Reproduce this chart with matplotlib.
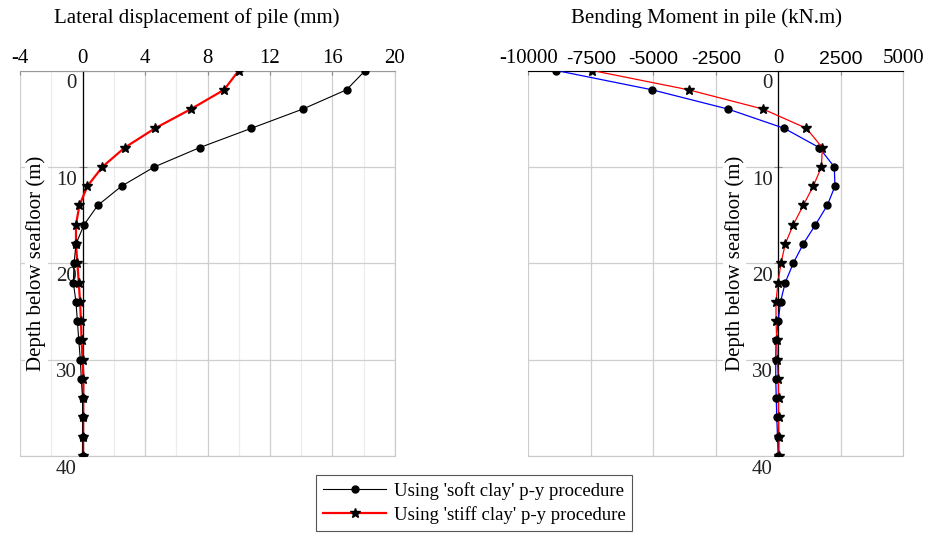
import matplotlib.pyplot as plt
from matplotlib.ticker import MultipleLocator

plt.rcParams['font.family'] = ['Liberation Serif', 'DejaVu Serif']
plt.rcParams['axes.unicode_minus'] = False

# depth below seafloor (m), one value every 2 m
depth = [0, 2, 4, 6, 8, 10, 12, 14, 16, 18, 20, 22, 24, 26, 28, 30, 32, 34, 36, 38, 40]

# lateral displacement (mm)
disp_soft = [18.1, 16.9, 14.1, 10.8, 7.5, 4.6, 2.5, 0.97, 0.1, -0.42, -0.54, -0.59, -0.42,
             -0.33, -0.24, -0.14, -0.08, 0.0, 0.01, 0.02, 0.02]
disp_stiff = [10.0, 9.06, 6.94, 4.64, 2.7, 1.27, 0.31, -0.2, -0.42, -0.42, -0.33, -0.24, -0.16,
              -0.1, -0.06, 0.0, 0.06, 0.04, 0.04, 0.03, 0.03]

# bending moment (kN.m)
mom_soft = [-8880, -5050, -2010, 240, 1640, 2240, 2270, 1960, 1490, 1000, 600, 280, 90,
            0, -90, -100, -100, -80, -60, -30, 0]
mom_stiff = [-7440, -3590, -610, 1130, 1760, 1730, 1400, 1000, 600, 280, 110, -10, -90,
             -90, -60, -40, 0, 10, 10, 30, 30]

depth_ticks = [0, 10, 20, 30, 40]
disp_ticks = [-4, 0, 4, 8, 12, 16, 20]
mom_ticks = [-10000, -7500, -5000, -2500, 0, 2500, 5000]

FS = 15

fig = plt.figure(figsize=(9.28, 5.33), dpi=100)
ax1 = fig.add_axes([0.0216, 0.1445, 0.404, 0.7232])
ax2 = fig.add_axes([0.5693, 0.1445, 0.404, 0.7232])


def style(ax, xticks, top_color):
    ax.set_ylim(40, 0)
    ax.set_xlim(xticks[0], xticks[-1])
    ax.xaxis.tick_top()
    ax.set_xticks(xticks)
    ax.set_yticks(depth_ticks)
    ax.set_yticklabels([])
    ax.spines['left'].set_position(('data', 0))
    ax.spines['left'].set_color('black')
    ax.spines['left'].set_linewidth(0.9)
    for s in ['right', 'bottom']:
        ax.spines[s].set_color('#c8c8c8')
    ax.spines['top'].set_color(top_color)
    ax.tick_params(axis='x', length=3, color='#888888', labelsize=FS, pad=2, direction='in')
    ax.tick_params(axis='y', length=6, color='#888888', direction='inout', pad=0)
    ax.grid(True, which='major', color='#cfcfcf', linewidth=0.9)
    ax.set_axisbelow(True)
    for d in depth_ticks:
        ax.annotate(str(d), xy=(0, d), xytext=(-4, -9.5), textcoords='offset points',
                    ha='right', va='center', fontsize=FS, color='#222222')


style(ax1, disp_ticks, '#999999')
ax1.xaxis.set_minor_locator(MultipleLocator(2))
ax1.tick_params(axis='x', which='minor', length=0)
ax1.grid(True, which='minor', axis='x', color='#ececec', linewidth=0.9)

l_stiff, = ax1.plot(disp_stiff, depth, color='red', lw=1.6, marker='*', ms=7,
                    mfc='black', mec='black', zorder=3)
l_soft, = ax1.plot(disp_soft, depth, color='black', lw=0.8, marker='o', ms=5, zorder=4)

style(ax2, mom_ticks, 'black')
ax2.plot(mom_soft, depth, color='blue', lw=0.9, marker='o', ms=5,
         mfc='black', mec='black', zorder=3)
ax2.plot(mom_stiff, depth, color='red', lw=0.9, marker='*', ms=7,
         mfc='black', mec='black', zorder=4)

# middle tick labels of the moment axis look sans-serif in the original
for lab, v in zip(ax2.get_xticklabels(), mom_ticks):
    if v not in (-10000, 0, 5000):
        lab.set_fontfamily('Liberation Sans')
        lab.set_fontsize(FS - 1)

ax1.text(0.472, 1.136, 'Lateral displacement of pile (mm)', transform=ax1.transAxes,
         ha='center', va='center', fontsize=FS)
ax2.text(0.474, 1.136, 'Bending Moment in pile (kN.m)', transform=ax2.transAxes,
         ha='center', va='center', fontsize=FS)

for ax, xf in [(ax1, 0.043), (ax2, 0.551)]:
    ax.text(xf, 0.5, 'Depth below seafloor (m)', transform=ax.transAxes, rotation=90,
            ha='center', va='center', fontsize=FS,
            bbox=dict(facecolor='white', edgecolor='none', pad=1))

leg = fig.legend([l_soft, l_stiff],
                 ["Using 'soft clay' p-y procedure", "Using 'stiff clay' p-y procedure"],
                 loc='lower center', bbox_to_anchor=(0.511, -0.013), fontsize=13.5,
                 fancybox=False, framealpha=1, edgecolor='#555555', borderpad=0.35,
                 handlelength=3.4, handletextpad=0.4, labelspacing=0.35)
leg.get_frame().set_linewidth(0.8)

fig.savefig('out.png', dpi=100)
